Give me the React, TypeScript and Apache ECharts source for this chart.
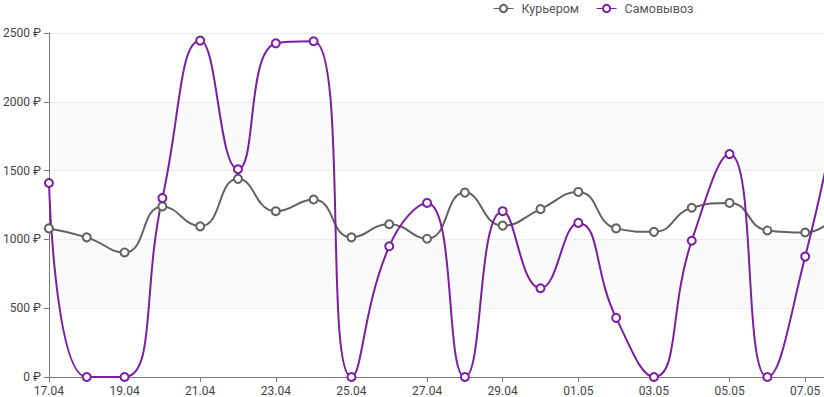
import React, { useEffect, useRef } from "react";
import * as echarts from "echarts";

const categories = [
  "17.04", "18.04", "19.04", "20.04", "21.04", "22.04", "23.04", "24.04", "25.04", "26.04", "27.04",
  "28.04", "29.04", "30.04", "01.05", "02.05", "03.05", "04.05", "05.05", "06.05", "07.05", "08.05",
];
const courier = [1080, 1015, 905, 1240, 1095, 1440, 1205, 1290, 1015, 1110, 1005, 1340, 1100, 1220, 1345, 1080, 1055, 1230, 1265, 1065, 1050, 1230];
const pickup = [1410, 0, 0, 1300, 2445, 1510, 2425, 2440, 0, 950, 1265, 0, 1205, 645, 1120, 430, 0, 990, 1620, 0, 875, 2150];
const seriesNames = ["Курьером", "Самовывоз"];

export default function App() {
  const ref = useRef<HTMLDivElement>(null);
  useEffect(() => {
    if (!ref.current) return;
    const chart = echarts.init(ref.current, undefined, { renderer: "svg" });
    const font = "Roboto";
    chart.setOption({
      animation: false,
      textStyle: { fontFamily: font },
      legend: {
        left: 493,
        top: 2,
        padding: 0,
        itemGap: 17,
        itemWidth: 20,
        itemHeight: 9,
        itemStyle: { borderWidth: 1 },
        lineStyle: { width: 1 },
        textStyle: { fontFamily: font, fontSize: 12.5, color: "#555", padding: [0, 0, 0, 3] },
        data: seriesNames,
      },
      grid: { left: 48, right: 37, top: 33, bottom: 20, containLabel: false },
      xAxis: {
        type: "category",
        boundaryGap: false,
        data: categories,
        axisLine: { lineStyle: { color: "#777" } },
        axisTick: { interval: 1, lineStyle: { color: "#777" } },
        axisLabel: { interval: 1, color: "#444", fontSize: 12, fontFamily: font },
        splitLine: { show: false },
      },
      yAxis: {
        type: "value",
        min: 0,
        max: 2500,
        interval: 500,
        axisLine: { show: true, lineStyle: { color: "#777" } },
        axisTick: { show: true, lineStyle: { color: "#777" } },
        axisLabel: {
          formatter: (v: number) => `${v} ₽`,
          color: "#444",
          fontSize: 12,
          fontFamily: font,
        },
        splitLine: { lineStyle: { color: "#ececec" } },
        splitArea: { show: true, areaStyle: { color: ["#ffffff", "#fafafa"] } },
      },
      series: [
        {
          name: seriesNames[0],
          type: "line",
          smooth: true,
          data: courier,
          symbol: "emptyCircle",
          symbolSize: 8,
          showAllSymbol: true,
          itemStyle: { color: "#616161", borderWidth: 2 },
          lineStyle: { color: "#616161", width: 2 },
        },
        {
          name: seriesNames[1],
          type: "line",
          smooth: true,
          data: pickup,
          symbol: "emptyCircle",
          symbolSize: 8,
          showAllSymbol: true,
          itemStyle: { color: "#7b1fa2", borderWidth: 2 },
          lineStyle: { color: "#7b1fa2", width: 2 },
        },
      ],
    });
    return () => chart.dispose();
  }, []);
  return (
    <div style={{ position: "fixed", left: 0, top: 0, width: 824, height: 397, overflow: "hidden", background: "#fff" }}>
      <div ref={ref} style={{ width: 880, height: 397 }} />
    </div>
  );
}
